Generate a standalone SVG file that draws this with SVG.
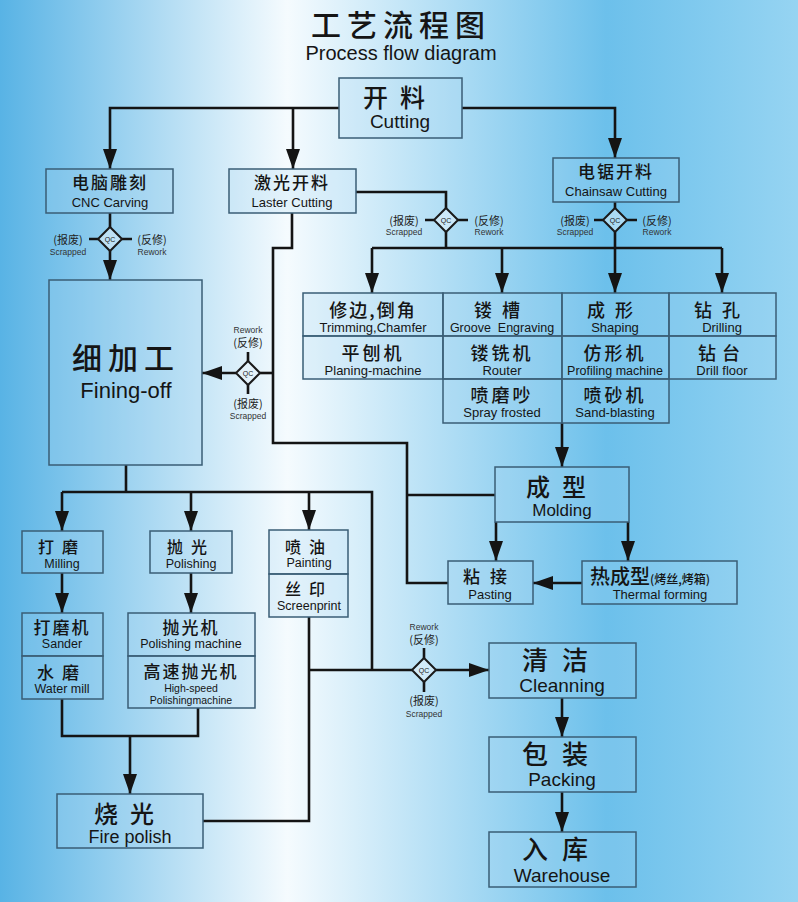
<svg xmlns="http://www.w3.org/2000/svg" width="798" height="902" viewBox="0 0 798 902">
<defs>
<linearGradient id="bg" x1="0" y1="0" x2="1" y2="0">
<stop offset="0" stop-color="#58b3e5"/>
<stop offset="0.36" stop-color="#f5fbfe"/>
<stop offset="0.76" stop-color="#6cc0eb"/>
<stop offset="1" stop-color="#96d4f2"/>
</linearGradient>
<marker id="ar" markerUnits="userSpaceOnUse" viewBox="0 0 20 14" refX="20" refY="7" markerWidth="20" markerHeight="14" orient="auto">
<path d="M0,0 L20,7 L0,14 z" fill="#141414"/>
</marker>
<g id="qc">
<path d="M0,-12 L12,0 L0,12 L-12,0 z" fill="#e8f4fb" fill-opacity="0.5" stroke="#1a1a1a" stroke-width="2"/>
<text x="0" y="2.5" font-family="Liberation Sans, Arial, sans-serif" font-size="7" text-anchor="middle" fill="#222">QC</text>
</g>
</defs>
<style>
.box{fill:#aad7f0;fill-opacity:0.22;stroke:#3a5d76;stroke-width:1.5}
.ln{stroke:#141414;stroke-width:2.6;fill:none}
.ar{marker-end:url(#ar)}
.zh{font-family:"Noto Sans CJK SC",sans-serif;font-weight:500;fill:#151515;text-anchor:middle}
.en{font-family:"Liberation Sans",Arial,sans-serif;fill:#151515;text-anchor:middle}
.q1{font-family:"Noto Sans CJK SC",sans-serif;fill:#222;font-size:11px;text-anchor:middle}
.q2{font-family:"Liberation Sans",Arial,sans-serif;fill:#333;font-size:8.5px;text-anchor:middle}
</style>
<rect x="0" y="0" width="798" height="902" fill="url(#bg)"/>

<g id="title">
<text class="zh" x="401" y="36" font-size="30" letter-spacing="6" font-weight="400">工艺流程图</text>
<text class="en" x="401" y="60" font-size="20">Process flow diagram</text>
</g>

<g id="connectors">
<path class="ln ar" d="M339,108 H110 V169"/>
<path class="ln ar" d="M293,108 V169"/>
<path class="ln ar" d="M462,108 H615 V158"/>
<path class="ln" d="M110,213 V228"/>
<path class="ln ar" d="M110,251 V280"/>
<path class="ln" d="M98,239 H89 M122,239 H132"/>
<path class="ln" d="M356,192 H446 V208 M446,232 V248 M372,248 H722"/>
<path class="ln" d="M434,220 H425 M458,220 H468"/>
<path class="ln ar" d="M372,248 V293"/>
<path class="ln ar" d="M502,248 V293"/>
<path class="ln ar" d="M615,248 V293"/>
<path class="ln ar" d="M722,248 V293"/>
<path class="ln" d="M615,202 V208 M615,232 V248"/>
<path class="ln" d="M603,220 H594 M627,220 H637"/>
<path class="ln" d="M292,213 V248 H273 V443 H407 V583 H448"/>
<path class="ln" d="M273,373 H260"/>
<path class="ln ar" d="M236,373 H202"/>
<path class="ln" d="M248,361 V352 M248,385 V394"/>
<path class="ln ar" d="M562,423 V467"/>
<path class="ln ar" d="M496,522 V561"/>
<path class="ln ar" d="M628,522 V561"/>
<path class="ln" d="M495,495 H407"/>
<path class="ln ar" d="M582,583 H533"/>
<path class="ln" d="M126,465 V492 M62,492 H372 V670"/>
<path class="ln ar" d="M62,492 V531"/>
<path class="ln ar" d="M191,492 V531"/>
<path class="ln ar" d="M309,492 V530"/>
<path class="ln ar" d="M62,573 V613"/>
<path class="ln ar" d="M191,573 V613"/>
<path class="ln" d="M62,699 V736 H198 V708"/>
<path class="ln ar" d="M130,736 V794"/>
<path class="ln" d="M309,617 V821 H203"/>
<path class="ln" d="M309,670 H412"/>
<path class="ln ar" d="M436,670 H489"/>
<path class="ln" d="M424,658 V648 M424,682 V692"/>
<path class="ln ar" d="M562,698 V737"/>
<path class="ln ar" d="M562,792 V832"/>
</g>

<g id="cutting">
<rect class="box" x="339" y="78" width="123" height="60"/>
<text class="zh" x="400" y="107" font-size="25" letter-spacing="12">开料</text>
<text class="en" x="400" y="128" font-size="19">Cutting</text>
</g>

<g id="cnc">
<rect class="box" x="46" y="169" width="127" height="44"/>
<text class="zh" x="110" y="189" font-size="17" letter-spacing="2">电脑雕刻</text>
<text class="en" x="110" y="207" font-size="13">CNC Carving</text>
</g>
<g id="qc-cnc">
<use href="#qc" x="110" y="239"/>
<text class="q1" x="68" y="244">(报废)</text>
<text class="q2" x="68" y="255">Scrapped</text>
<text class="q1" x="152" y="244">(反修)</text>
<text class="q2" x="152" y="255">Rework</text>
</g>

<g id="laser">
<rect class="box" x="229" y="169" width="127" height="44"/>
<text class="zh" x="292" y="189" font-size="17" letter-spacing="2">激光开料</text>
<text class="en" x="292" y="207" font-size="13">Laster Cutting</text>
</g>
<g id="qc-laser">
<use href="#qc" x="446" y="220"/>
<text class="q1" x="404" y="225">(报废)</text>
<text class="q2" x="404" y="235">Scrapped</text>
<text class="q1" x="489" y="225">(反修)</text>
<text class="q2" x="489" y="235">Rework</text>
</g>

<g id="chainsaw">
<rect class="box" x="553" y="158" width="126" height="44"/>
<text class="zh" x="616" y="178" font-size="17" letter-spacing="2">电锯开料</text>
<text class="en" x="616" y="196" font-size="13">Chainsaw Cutting</text>
</g>
<g id="qc-chainsaw">
<use href="#qc" x="615" y="220"/>
<text class="q1" x="575" y="225">(报废)</text>
<text class="q2" x="575" y="235">Scrapped</text>
<text class="q1" x="657" y="225">(反修)</text>
<text class="q2" x="657" y="235">Rework</text>
</g>

<g id="table">
<rect class="box" x="303" y="293" width="140" height="43"/>
<rect class="box" x="443" y="293" width="119" height="43"/>
<rect class="box" x="562" y="293" width="107" height="43"/>
<rect class="box" x="669" y="293" width="107" height="43"/>
<rect class="box" x="303" y="336" width="140" height="43"/>
<rect class="box" x="443" y="336" width="119" height="43"/>
<rect class="box" x="562" y="336" width="107" height="43"/>
<rect class="box" x="669" y="336" width="107" height="43"/>
<rect class="box" x="443" y="379" width="119" height="44"/>
<rect class="box" x="562" y="379" width="107" height="44"/>
<text class="zh" x="373" y="317" font-size="18" letter-spacing="2">修边,倒角</text>
<text class="en" x="373" y="332" font-size="13">Trimming,Chamfer</text>
<text class="zh" x="502" y="317" font-size="18" letter-spacing="10">镂槽</text>
<text class="en" x="502" y="332" font-size="12.5" xml:space="preserve">Groove  Engraving</text>
<text class="zh" x="615" y="317" font-size="18" letter-spacing="10">成形</text>
<text class="en" x="615" y="332" font-size="13">Shaping</text>
<text class="zh" x="722" y="317" font-size="18" letter-spacing="10">钻孔</text>
<text class="en" x="722" y="332" font-size="13">Drilling</text>
<text class="zh" x="373" y="360" font-size="18" letter-spacing="3">平刨机</text>
<text class="en" x="373" y="375" font-size="13">Planing-machine</text>
<text class="zh" x="502" y="360" font-size="18" letter-spacing="3">镂铣机</text>
<text class="en" x="502" y="375" font-size="13">Router</text>
<text class="zh" x="615" y="360" font-size="18" letter-spacing="3">仿形机</text>
<text class="en" x="615" y="375" font-size="12.5">Profiling machine</text>
<text class="zh" x="722" y="360" font-size="18" letter-spacing="6">钻台</text>
<text class="en" x="722" y="375" font-size="13">Drill floor</text>
<text class="zh" x="502" y="402" font-size="18" letter-spacing="3">喷磨吵</text>
<text class="en" x="502" y="417" font-size="13">Spray frosted</text>
<text class="zh" x="615" y="402" font-size="18" letter-spacing="3">喷砂机</text>
<text class="en" x="615" y="417" font-size="13">Sand-blasting</text>
</g>

<g id="fining">
<rect class="box" x="49" y="280" width="153" height="185"/>
<text class="zh" x="126" y="369" font-size="30" letter-spacing="6">细加工</text>
<text class="en" x="126" y="398" font-size="22">Fining-off</text>
</g>
<g id="qc-fining">
<use href="#qc" x="248" y="373"/>
<text class="q2" x="248" y="333">Rework</text>
<text class="q1" x="248" y="347">(反修)</text>
<text class="q1" x="248" y="408">(报废)</text>
<text class="q2" x="248" y="419">Scrapped</text>
</g>

<g id="molding">
<rect class="box" x="495" y="467" width="134" height="55"/>
<text class="zh" x="562" y="496" font-size="24" letter-spacing="12">成型</text>
<text class="en" x="562" y="516" font-size="17">Molding</text>
</g>
<g id="pasting">
<rect class="box" x="448" y="561" width="85" height="43"/>
<text class="zh" x="490" y="583" font-size="17" letter-spacing="10">粘接</text>
<text class="en" x="490" y="599" font-size="13">Pasting</text>
</g>
<g id="thermal">
<rect class="box" x="582" y="561" width="155" height="43"/>
<text x="590" y="584" font-family="Noto Sans CJK SC, sans-serif" font-weight="500" fill="#151515"><tspan font-size="20">热成型</tspan><tspan font-size="12">(烤丝,烤箱)</tspan></text>
<text class="en" x="660" y="599" font-size="13">Thermal forming</text>
</g>

<g id="milling">
<rect class="box" x="22" y="531" width="81" height="42"/>
<text class="zh" x="62" y="553" font-size="16" letter-spacing="8">打磨</text>
<text class="en" x="62" y="568" font-size="12.5">Milling</text>
</g>
<g id="polishing">
<rect class="box" x="150" y="531" width="82" height="42"/>
<text class="zh" x="191" y="553" font-size="16" letter-spacing="8">抛光</text>
<text class="en" x="191" y="568" font-size="12.5">Polishing</text>
</g>
<g id="painting">
<rect class="box" x="269" y="530" width="79" height="44"/>
<rect class="box" x="269" y="574" width="79" height="43"/>
<text class="zh" x="309" y="553" font-size="16" letter-spacing="8">喷油</text>
<text class="en" x="309" y="567" font-size="12.5">Painting</text>
<text class="zh" x="309" y="595" font-size="16" letter-spacing="8">丝印</text>
<text class="en" x="309" y="610" font-size="12.5">Screenprint</text>
</g>
<g id="sander">
<rect class="box" x="22" y="613" width="81" height="43"/>
<rect class="box" x="22" y="656" width="81" height="43"/>
<text class="zh" x="62" y="634" font-size="17" letter-spacing="2">打磨机</text>
<text class="en" x="62" y="648" font-size="12.5">Sander</text>
<text class="zh" x="62" y="679" font-size="17" letter-spacing="8">水磨</text>
<text class="en" x="62" y="693" font-size="12.5">Water mill</text>
</g>
<g id="polmachine">
<rect class="box" x="128" y="613" width="127" height="43"/>
<rect class="box" x="128" y="656" width="127" height="52"/>
<text class="zh" x="191" y="634" font-size="17" letter-spacing="2">抛光机</text>
<text class="en" x="191" y="648" font-size="12.5">Polishing machine</text>
<text class="zh" x="191" y="678" font-size="17" letter-spacing="2">高速抛光机</text>
<text class="en" x="191" y="692" font-size="10.5">High-speed</text>
<text class="en" x="191" y="704" font-size="10.5">Polishingmachine</text>
</g>
<g id="firepolish">
<rect class="box" x="57" y="794" width="146" height="54"/>
<text class="zh" x="130" y="823" font-size="24" letter-spacing="12">烧光</text>
<text class="en" x="130" y="843" font-size="18">Fire polish</text>
</g>

<g id="qc-final">
<use href="#qc" x="424" y="670"/>
<text class="q2" x="424" y="630">Rework</text>
<text class="q1" x="424" y="644">(反修)</text>
<text class="q1" x="424" y="705">(报废)</text>
<text class="q2" x="424" y="717">Scrapped</text>
</g>
<g id="cleaning">
<rect class="box" x="489" y="643" width="147" height="55"/>
<text class="zh" x="562" y="670" font-size="26" letter-spacing="14">清洁</text>
<text class="en" x="562" y="692" font-size="19">Cleanning</text>
</g>
<g id="packing">
<rect class="box" x="489" y="737" width="147" height="55"/>
<text class="zh" x="562" y="764" font-size="26" letter-spacing="14">包装</text>
<text class="en" x="562" y="786" font-size="19">Packing</text>
</g>
<g id="warehouse">
<rect class="box" x="489" y="832" width="147" height="55"/>
<text class="zh" x="562" y="859" font-size="26" letter-spacing="14">入库</text>
<text class="en" x="562" y="882" font-size="19">Warehouse</text>
</g>
</svg>
